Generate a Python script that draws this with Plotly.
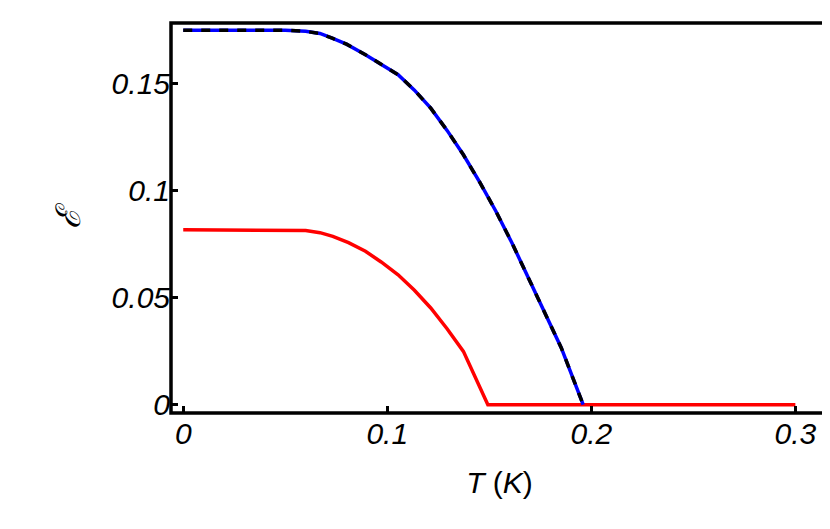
import plotly.graph_objects as go

# values
t_blue = [0.0, 0.05, 0.06, 0.067, 0.073, 0.08, 0.0893, 0.097, 0.1053, 0.1133, 0.1213, 0.1293, 0.1373,
          0.1453, 0.1533, 0.1613, 0.1693, 0.1773, 0.1853, 0.196]
e_blue = [0.175, 0.175, 0.1745, 0.1735, 0.1713, 0.1685, 0.1636, 0.1592, 0.1542, 0.147, 0.1386, 0.1282, 0.1168,
          0.104, 0.0903, 0.0752, 0.0592, 0.0428, 0.0265, 0.0]
t_red = [0.0, 0.05, 0.06, 0.067, 0.0733, 0.081, 0.0893, 0.097, 0.1053, 0.1133, 0.1213, 0.1293, 0.1373,
         0.1493, 0.3]
e_red = [0.0818, 0.0818, 0.0814, 0.0804, 0.0787, 0.0757, 0.0717, 0.0667, 0.0607, 0.0535, 0.0452, 0.0355,
         0.0249, 0.0, 0.0]

xticks = [0, 0.1, 0.2, 0.3]
xtick_text = ["0", "0.1", "0.2", "0.3"]
yticks = [0, 0.05, 0.1, 0.15]
ytick_text = ["0", "0.05", "0.1", "0.15"]

fig = go.Figure()
fig.add_trace(go.Scatter(x=t_red, y=e_red, mode="lines", line=dict(color="red", width=3.5)))
fig.add_trace(go.Scatter(x=t_blue, y=e_blue, mode="lines", line=dict(color="blue", width=3.5)))
fig.add_trace(go.Scatter(x=t_blue, y=e_blue, mode="lines",
                         line=dict(color="black", width=3.5, dash="9px,9px")))

font = dict(family="Liberation Sans, Arial", size=30, color="black")
axis = dict(showgrid=False, zeroline=False, showline=False,
            ticks="inside", ticklen=7, tickwidth=3, tickcolor="black", tickfont=font)
fig.add_shape(type="rect", xref="paper", yref="paper", x0=0, y0=0, x1=1, y1=1,
              line=dict(color="black", width=3.5))
fig.update_layout(
    width=830, height=529, plot_bgcolor="white", paper_bgcolor="white", showlegend=False,
    margin=dict(l=163, r=10, t=15, b=124),
    xaxis=dict(axis, range=[-0.006, 0.316], tickvals=xticks,
               ticktext=["<i>%s</i>" % s for s in xtick_text],
               title=dict(text="<i>T</i> (<i>K</i>)", font=font, standoff=22)),
    yaxis=dict(axis, range=[-0.0039, 0.1784], tickvals=yticks,
               ticktext=["<i>%s</i>" % s for s in ytick_text],
               title=dict(text="<i>ℰ</i>", font=dict(font, size=34), standoff=20)),
)
fig.write_html("out.html")
